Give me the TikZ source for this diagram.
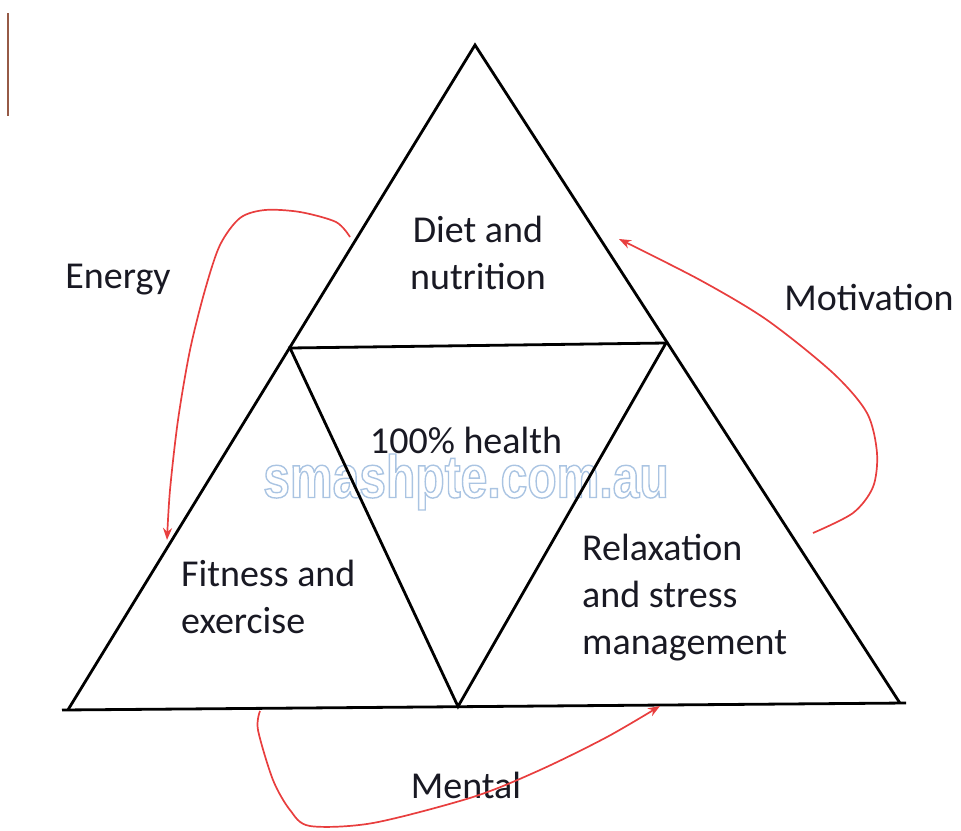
\documentclass[tikz,border=0pt]{standalone}
\usepackage{fontspec}
\setmainfont{Carlito}
\newfontfamily\wmfont[FakeStretch=0.8]{Liberation Sans}
\usetikzlibrary{arrows.meta}
\definecolor{txt}{RGB}{25,25,35}
\definecolor{arrowred}{RGB}{232,62,62}
\definecolor{wmblue}{RGB}{170,196,226}
\definecolor{edgebrown}{RGB}{150,90,70}
\begin{document}
\begin{tikzpicture}[x=1pt,y=-1pt,
  tri/.style={line width=2.8pt, line join=miter, black},
  lbl/.style={font=\fontsize{38}{47}\selectfont, text=txt, inner sep=0pt, align=center},
  wm/.style={font=\wmfont\bfseries\fontsize{60}{60}\selectfont, text=wmblue, inner sep=0pt},
  rarrow/.style={draw=arrowred, line width=1.7pt, -{Stealth[length=12pt,width=9pt]}}]
\useasboundingbox (0,0) rectangle (961,830);
% left edge mark
\draw[edgebrown, line width=1.8pt] (8,13) -- (8,116);
% watermark
\node[wm] (wm) at (466,482) {\special{pdf:literal direct 1 Tr 1.4 w}smashpte.com.au\special{pdf:literal direct 0 Tr 0.4 w}};
% geometry
\coordinate (A) at (475,45);
\coordinate (BL) at (68,709.8);
\coordinate (BR) at (900,703.2);
\coordinate (L) at (290,348);
\coordinate (R) at (666,343);
\coordinate (M) at (458,706.5);
\coordinate (LE) at (62,710);
\coordinate (RE) at (906,703);
\draw[tri] (BL) -- (A) -- (BR);
\draw[tri] (LE) -- (RE);
\draw[tri] (L) -- (R) -- (M) -- cycle;
% labels
\node[lbl] (diet) at (478,253) {Diet and\\nutrition};
\node[lbl] (energy) at (118,280) {Energy};
\node[lbl] (motiv) at (869,297) {Motivation};
\node[lbl] (health) at (466,440) {100\% health};
\node[lbl, align=left, anchor=west] (fit) at (181,597) {Fitness and\\exercise};
\node[lbl, align=left, anchor=west] (relax) at (582,598) {Relaxation\\and stress\\management};
\node[lbl] (mental) at (466,785) {Mental};
% arrows
\coordinate (e1) at (350,237);
\coordinate (e2) at (167,540);
\draw[rarrow] plot[smooth] coordinates {(e1) (336,222) (300,212) (265,210) (240,218) (220,245) (205,290) (190,350) (178,420) (170,490) (e2)};
\coordinate (m1) at (813,533);
\coordinate (m2) at (619,239);
\draw[rarrow] plot[smooth] coordinates {(m1) (853,513) (873,487) (877,453) (867,413) (833,373) (767,320) (700,280) (m2)};
\coordinate (n1) at (260,711);
\coordinate (n2) at (660,706);
\draw[rarrow] plot[smooth] coordinates {(n1) (258,730) (273,780) (290,810) (310,826) (373,823) (473,797) (540,770) (607,737) (n2)};
\end{tikzpicture}
\end{document}
